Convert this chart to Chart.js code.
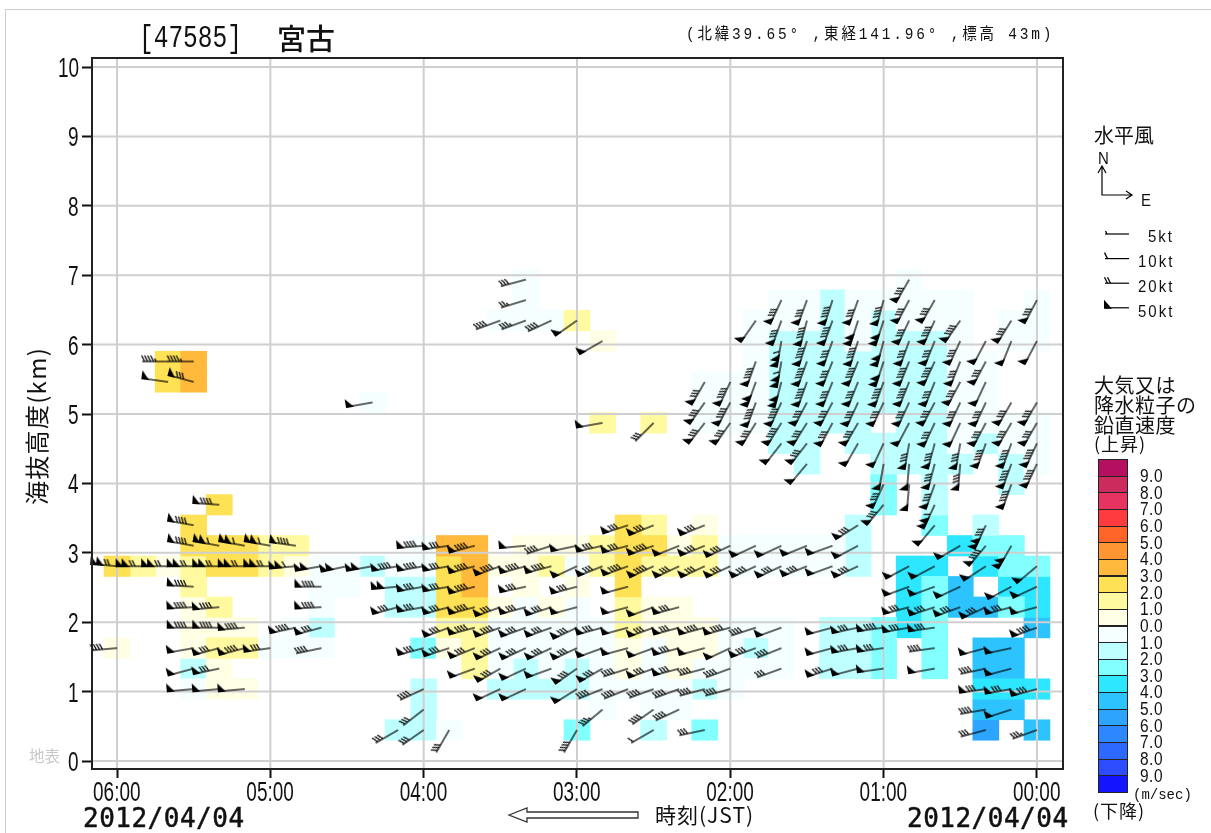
<!DOCTYPE html>
<html lang="ja">
<head>
<meta charset="utf-8">
<title>47585 宮古</title>
<script src="https://cdn.jsdelivr.net/npm/chart.js@4/dist/chart.umd.min.js"></script>
<style>
    html, body { margin: 0; padding: 0; background: #fff; overflow: hidden; }
    #wrap { position: relative; width: 1211px; height: 833px; }
    #frame { position: absolute; left: 5px; top: 9px; right: -5px; bottom: -5px; border-left: 1px solid #ccc; border-top: 1px solid #ccc; }
    canvas { position: absolute; left: 0; top: 0; }
    .t { position: absolute; white-space: pre; line-height: 1; color: #111; transform-origin: left top; font-family: "Noto Sans CJK JP", sans-serif; }
    .m { font-family: "Liberation Mono", monospace; }
    .d { font-family: "DejaVu Sans Mono", monospace; -webkit-text-stroke: 0.5px #111; }
    .tick { font-family: "Liberation Sans", sans-serif; font-size: 19px; transform: scaleY(1.42); }
    .kt { font-family: "Liberation Sans", sans-serif; font-size: 15px; letter-spacing: 2px; transform: scaleY(1.15); }
    .box { position: absolute; left: 1098px; width: 30px; box-sizing: border-box; border: 1px solid #222; }
</style>
</head>
<body>
<div id="wrap">
    <div id="frame"></div>
    <canvas id="perfil" width="1211" height="833"></canvas>
    <span class="t m" style="left:139px;top:24px;font-size:24.5px;transform:scaleY(1.25)">[47585]</span>
    <span class="t" style="left:277px;top:23px;font-size:29px;font-weight:500">宮古</span>
    <span class="t" style="left:686px;top:27px;font-size:14.5px;letter-spacing:2.8px;font-family:'Liberation Mono','Noto Sans CJK JP',monospace;transform:scaleY(1.12)">(北緯39.65° ,東経141.96° ,標高 43m)</span>
    <span class="t" style="left:24px;top:505px;font-size:24px;transform:rotate(-90deg);letter-spacing:1.3px">海抜高度(km)</span>
    <span class="t" style="left:29px;top:748px;font-size:15.5px;color:#c8c8c8">地表</span>
    <span class="t d" style="left:83px;top:805px;font-size:26px;letter-spacing:0.5px">2012/04/04</span>
    <span class="t d" style="left:907px;top:805px;font-size:26px;letter-spacing:0.5px">2012/04/04</span>
    <span class="t" style="left:655px;top:804px;font-size:21px;letter-spacing:1px">時刻(JST)</span>
    <span class="t" style="left:1094px;top:125px;font-size:20px">水平風</span>
    <span class="t kt" style="left:1098px;top:149px;letter-spacing:0">N</span>
    <span class="t kt" style="left:1141px;top:191px;letter-spacing:0">E</span>
    <span class="t kt" style="left:1148px;top:227px">5kt</span>
    <span class="t kt" style="left:1138px;top:252px">10kt</span>
    <span class="t kt" style="left:1138px;top:277px">20kt</span>
    <span class="t kt" style="left:1138px;top:302px">50kt</span>
    <span class="t" style="left:1094px;top:375px;font-size:20px;letter-spacing:0.5px">大気又は</span>
    <span class="t" style="left:1094px;top:395px;font-size:20px;letter-spacing:0.5px">降水粒子の</span>
    <span class="t" style="left:1094px;top:415px;font-size:20px;letter-spacing:0.5px">鉛直速度</span>
    <span class="t" style="left:1094px;top:434px;font-size:18px;letter-spacing:1px">(上昇)</span>
    <span class="t m" style="left:1133px;top:788px;font-size:14px">(m/sec)</span>
    <span class="t" style="left:1093px;top:801px;font-size:18px;letter-spacing:1px">(下降)</span>
</div>
<script>
// ticks (minutes counted back from 00:00, km above sea level)
const timeTicks = [0, 60, 120, 180, 240, 300, 360];
const timeLabels = ['00:00', '01:00', '02:00', '03:00', '04:00', '05:00', '06:00'];
const heightTicks = [0, 1, 2, 3, 4, 5, 6, 7, 8, 9, 10];

// measuring gates of the profiler
const gateKm = [0.447, 0.742, 1.037, 1.332, 1.627, 1.922, 2.217, 2.512, 2.807, 3.102, 3.397, 3.692,
    3.987, 4.282, 4.577, 4.872, 5.167, 5.462, 5.757, 6.052, 6.347, 6.642, 6.937];
const gateHalfKm = 0.1475;

// colour bar, top to bottom
const bandColors = ['#B5105F', '#CC2B5E', '#E6335F', '#FF3B3F', '#FF6428', '#FF9632', '#FFB93C', '#FFE155', '#FFFAA0', '#FFFFE6',
    '#F5FFFF', '#BEFFFF', '#82FFFF', '#2DE6FF', '#2DC3FF', '#2DA5FF', '#2D87FF', '#2D69FF', '#2D4BFF', '#1414FF'];
const bandLabels = ['9.0', '8.0', '7.0', '6.0', '5.0', '4.0', '3.0', '2.0', '1.0', '0.0', '1.0', '2.0', '3.0', '4.0', '5.0', '6.0', '7.0', '8.0', '9.0'];
const cellBand = { a: 9, b: 8, c: 7, d: 6, 1: 10, 2: 11, 3: 12, 4: 13, 5: 14, 6: 15 };

// vertical velocity per gate (first line = lowest gate), one char per 10 minutes, 06:00 on the left
const verticalRows = [
    '...... .....2 21.... 3..2.3 ...... ....6. 5',
    '...... ...... 2..... .1.11. ...... ....55 .',
    '...1aa ...... 2..222 211112 1..... ....44 4',
    '...2a. ...... ..b121 21a1a1 111.22 3.3.55 .',
    'a..abb 111... 3ab111 11a1aa 121.22 3.3.55 .',
    '...aaa .12... .bb111 11baaa 111.22 343... 5',
    '...ab. ..1..2 2cca1a 1.baa. ...... .43553 4',
    '...b.. ..11.2 2cd.a. a.c... ...... .435.4 4',
    'cbabcc ba1121 1cdaab 1bcbbb 111112 .44.43 3',
    '...ccc bb.... 1dd.aa abccab 111112 ...433 .',
    '...c.. ...... ...... ..cb.a .....2 ..3.2. .',
    '....c. ...... ...... ...... ...... 3.2... .',
    '...... ...... ...... ...... ...... 3.2..2 .',
    '...... ...... ...... ...... ...2.. 2222.2 1',
    '...... ...... ...... ...... ..22.2 222121 1',
    '...... ...... ...... .b.b.1 112222 .22111 1',
    '...... ....1. ...... .....1 112222 22211. .',
    '..cd.. ...... ...... .....1 112222 22211. .',
    '..cd.. ...... ...... ...... .12222 22211. .',
    '...... ...... ...... .a.... .12221 2221.1 1',
    '...... ...... ...111 b..... .11121 2111.1 1',
    '...... ...... ....1. ...... ..1121 1111.. 1',
    '...... ...... ....1. ...... ...... .1.... .'
];

// horizontal wind per gate: [column (10 min back from 00:00), tail angle below horizontal in degrees, knots]
const windRows = [
    [[25,30,30],[24,35,30],[23,60,30],[18,60,40],[15,30,10],[13,12,30],[2,15,30],[0,20,35]],
    [[24,38,30],[17,40,35],[15,35,40],[14,25,40],[2,10,40],[1,18,50]],
    [[33,5,50],[32,5,50],[31,5,50],[24,25,40],[21,25,50],[20,25,50],[18,32,50],[17,22,40],[16,22,40],[15,20,40],[14,20,40],[13,15,40],[12,15,40],[2,8,80],[1,10,80],[0,15,80]],
    [[33,15,50],[32,12,80],[22,20,50],[21,30,80],[20,25,50],[19,20,50],[18,35,80],[17,30,80],[16,18,40],[15,20,80],[14,15,80],[13,15,40],[12,20,40],[10,20,30],[8,18,80],[7,15,50],[6,8,50],[4,10,50],[2,12,40],[1,15,50]],
    [[36,5,40],[33,10,50],[32,15,80],[31,15,90],[30,8,80],[28,12,40],[24,15,80],[23,18,80],[22,22,80],[21,25,80],[20,25,80],[19,25,80],[18,25,80],[17,20,50],[16,15,50],[15,20,50],[14,15,80],[13,15,50],[12,25,50],[11,20,80],[10,22,40],[8,15,50],[7,10,80],[6,8,80],[4,8,40],[2,15,50],[1,12,50]],
    [[33,0,90],[32,0,90],[31,5,90],[29,12,90],[28,15,80],[23,20,80],[22,15,90],[21,20,90],[20,20,80],[19,20,80],[18,25,80],[17,15,80],[16,15,50],[15,20,80],[14,15,80],[13,15,90],[12,15,90],[11,18,40],[10,20,50],[8,15,50],[7,12,80],[6,8,90],[5,10,80],[4,8,80],[0,20,90]],
    [[33,3,90],[32,5,90],[28,3,90],[25,15,80],[24,10,80],[23,15,80],[22,15,90],[21,20,80],[20,15,80],[19,18,80],[18,15,50],[16,15,50],[15,20,50],[14,15,80],[5,15,80],[4,18,80],[3,20,80],[2,25,80],[1,15,80],[0,15,50]],
    [[33,-3,90],[28,0,90],[25,5,100],[24,10,80],[23,10,80],[22,15,90],[20,12,80],[18,15,80],[16,15,50],[5,20,50],[4,20,50],[3,25,50],[1,28,50],[0,25,50]],
    [[36,-5,120],[35,0,120],[34,0,120],[33,0,120],[32,0,120],[31,0,120],[30,0,120],[29,5,110],[28,10,100],[27,12,100],[26,10,100],[25,10,90],[24,10,90],[23,10,80],[22,15,90],[21,20,90],[20,15,90],[19,15,90],[18,25,50],[17,22,80],[16,20,90],[15,25,90],[14,25,80],[13,25,80],[12,25,80],[11,25,80],[10,25,80],[9,22,80],[8,20,50],[7,25,80],[5,28,50],[4,28,50],[2,33,50],[0,40,50]],
    [[33,-10,90],[32,-10,110],[31,-10,110],[30,-10,110],[29,-8,90],[24,5,90],[23,8,80],[22,15,90],[20,5,50],[19,18,40],[18,12,50],[17,13,80],[16,15,80],[15,20,90],[14,22,50],[13,22,80],[12,25,80],[11,25,50],[10,25,50],[9,22,50],[8,20,50],[7,28,50],[3,30,50],[2,50,90],[1,60,100]],
    [[33,-10,90],[16,18,80],[15,22,80],[13,22,80],[7,32,80],[4,50,50],[2,65,130]],
    [[32,-4,90],[6,50,80],[4,65,110]],
    [[6,65,80],[5,85,50],[4,70,80],[1,70,90]],
    [[9,50,50],[6,80,50],[5,85,50],[4,75,80],[3,85,80],[1,70,90],[0,65,90]],
    [[10,52,50],[9,52,80],[7,60,50],[6,65,50],[5,80,80],[4,75,80],[3,80,80],[2,70,90],[1,70,90],[0,65,90]],
    [[17,10,50],[15,45,30],[13,52,80],[12,55,80],[11,58,80],[10,58,90],[9,58,80],[8,62,80],[7,60,80],[5,62,50],[4,65,80],[3,65,50],[2,62,80],[1,60,80],[0,60,80]],
    [[26,10,50],[13,55,80],[12,62,90],[11,70,90],[10,65,90],[9,62,80],[8,62,80],[7,65,80],[6,65,80],[5,65,80],[4,62,80],[3,65,80],[2,65,80],[1,60,80],[0,60,80]],
    [[34,-8,50],[33,-15,80],[13,60,80],[12,65,90],[11,70,100],[10,75,100],[9,70,90],[8,68,80],[7,68,80],[6,70,90],[5,68,90],[4,68,80],[3,62,80],[2,65,50]],
    [[34,0,45],[33,0,45],[11,70,90],[10,80,110],[9,70,90],[8,68,80],[7,68,90],[6,72,100],[5,68,90],[4,65,90],[3,68,80],[2,62,80]],
    [[17,30,50],[10,80,110],[9,72,90],[8,70,80],[7,72,90],[6,75,100],[5,70,80],[4,68,80],[3,65,80],[2,62,50],[1,68,50],[0,62,50]],
    [[21,20,40],[20,20,35],[19,25,40],[18,35,50],[11,55,50],[10,70,80],[9,75,90],[8,70,90],[7,72,100],[6,72,100],[5,65,80],[4,65,90],[3,55,90],[1,58,80]],
    [[20,17,25],[10,65,80],[9,70,80],[8,72,90],[7,70,80],[6,75,90],[5,62,80],[4,60,80],[0,62,80]],
    [[20,15,30],[5,60,80]]
];

// legend of the barbs
const legendKnots = [5, 10, 20, 50];

function buildCellData() {
    const bands = {};
    verticalRows.forEach((line, r) => {
        line.replace(/ /g, '').split('').forEach((ch, i) => {
            if (ch === '.') return;
            const band = cellBand[ch];
            (bands[band] = bands[band] || []).push({ x: (36 - i) * 10, y: [gateKm[r] - gateHalfKm, gateKm[r] + gateHalfKm] });
        });
    });
    return bands;
}

function buildBarbData() {
    const puntos = [];
    windRows.forEach((row, r) => {
        row.forEach(([c, angle, knots]) => puntos.push({ x: c * 10, y: gateKm[r], angle, knots }));
    });
    return puntos;
}

// staff runs left from (x0,y0), tail at the far left, feathers up
function drawBarb(ctx, x0, y0, len, knots) {
    ctx.strokeStyle = '#000';
    ctx.fillStyle = '#000';
    ctx.lineWidth = 1.2;
    ctx.beginPath();
    ctx.moveTo(x0, y0);
    ctx.lineTo(x0 - len, y0);
    ctx.stroke();
    let rest = knots;
    let pos = x0 - len;
    while (rest >= 50) {
        ctx.beginPath();
        ctx.moveTo(pos - 1, y0 + 1);
        ctx.lineTo(pos - 1, y0 - 8);
        ctx.lineTo(pos + 7, y0 + 1);
        ctx.closePath();
        ctx.fill();
        pos += 6;
        rest -= 50;
    }
    if (pos > x0 - len) pos += 1;
    ctx.lineWidth = 1.3;
    while (rest >= 10) {
        ctx.beginPath();
        ctx.moveTo(pos + 2.5, y0);
        ctx.lineTo(pos - 0.5, y0 - 6);
        ctx.stroke();
        pos += 3;
        rest -= 10;
    }
    if (rest >= 5) {
        ctx.beginPath();
        ctx.moveTo(pos + 2, y0);
        ctx.lineTo(pos + 0.5, y0 - 3);
        ctx.stroke();
    }
}

const barbCache = {};
function barbStyle(knots) {
    if (!barbCache[knots]) {
        const cv = document.createElement('canvas');
        cv.width = 76;
        cv.height = 76;
        drawBarb(cv.getContext('2d'), 38, 38, 26, knots);
        barbCache[knots] = cv;
    }
    return barbCache[knots];
}

// grid sits over the cells but under the barbs
const gridOverCells = {
    id: 'gridOverCells',
    beforeDatasetDraw(chart, args) {
        if (args.index !== 0) return;
        const { ctx, chartArea: a, scales: { x, y } } = chart;
        ctx.save();
        ctx.strokeStyle = '#cfcfcf';
        ctx.lineWidth = 2;
        ctx.beginPath();
        timeTicks.forEach(v => { const p = x.getPixelForValue(v); ctx.moveTo(p, a.top); ctx.lineTo(p, a.bottom); });
        heightTicks.forEach(v => { const p = y.getPixelForValue(v); ctx.moveTo(a.left, p); ctx.lineTo(a.right, p); });
        ctx.stroke();
        ctx.restore();
    }
};

const frameAndKey = {
    id: 'frameAndKey',
    afterDraw(chart) {
        const { ctx, chartArea: a } = chart;
        ctx.save();
        ctx.strokeStyle = '#222';
        ctx.lineWidth = 2;
        ctx.strokeRect(a.left, a.top, a.right - a.left, a.bottom - a.top);

        // compass of the legend
        ctx.lineWidth = 1.2;
        ctx.strokeStyle = '#000';
        ctx.beginPath();
        ctx.moveTo(1102, 166); ctx.lineTo(1102, 195); ctx.lineTo(1132, 195);
        ctx.moveTo(1098, 173); ctx.lineTo(1102, 166); ctx.lineTo(1106, 173);
        ctx.moveTo(1126, 191); ctx.lineTo(1132, 195); ctx.lineTo(1126, 199);
        ctx.stroke();

        legendKnots.forEach((k, i) => drawBarb(ctx, 1129, 234 + i * 24.6, 24, k));

        // time direction arrow
        ctx.strokeStyle = '#333';
        ctx.lineWidth = 1.3;
        ctx.beginPath();
        ctx.moveTo(509, 815); ctx.lineTo(527, 808); ctx.lineTo(527, 812); ctx.lineTo(638, 812);
        ctx.lineTo(638, 818); ctx.lineTo(527, 818); ctx.lineTo(527, 822);
        ctx.closePath();
        ctx.stroke();
        ctx.restore();
    }
};

function pintarBarraColor() {
    const wrap = document.getElementById('wrap');
    bandColors.forEach((color, i) => {
        const box = document.createElement('div');
        box.className = 'box';
        box.style.top = (459 + i * 16.65) + 'px';
        box.style.height = '17.6px';
        box.style.background = color;
        wrap.appendChild(box);
    });
    bandLabels.forEach((text, i) => {
        const s = document.createElement('span');
        s.className = 't tick';
        s.textContent = text;
        s.style.cssText = 'left:1140px;font-size:15.5px;letter-spacing:0.5px;top:' + (466 + i * 16.65) + 'px;transform:scaleY(1.2)';
        wrap.appendChild(s);
    });
}

// tall narrow tick text of the original, placed from the chart's own axes
function pintarEtiquetas(chart) {
    const wrap = document.getElementById('wrap');
    chart.scales.x.ticks.forEach(t => {
        const s = document.createElement('span');
        s.className = 't tick';
        s.textContent = timeLabels[timeTicks.indexOf(t.value)];
        wrap.appendChild(s);
        s.style.left = (chart.scales.x.getPixelForValue(t.value) - s.offsetWidth / 2) + 'px';
        s.style.top = '778px';
    });
    chart.scales.y.ticks.forEach(t => {
        const s = document.createElement('span');
        s.className = 't tick';
        s.textContent = String(t.value);
        wrap.appendChild(s);
        s.style.left = (79 - s.offsetWidth) + 'px';
        s.style.top = (chart.scales.y.getPixelForValue(t.value) - 13) + 'px';
    });
}

function renderizarPerfil() {
    const bands = buildCellData();
    const cellSets = Object.keys(bands).map(b => ({
        type: 'bar',
        data: bands[b],
        backgroundColor: bandColors[b],
        borderWidth: 0,
        barThickness: 26,
        grouped: false,
        order: 1
    }));

    const chart = new Chart(document.getElementById('perfil').getContext('2d'), {
        type: 'bar',
        data: {
            datasets: [{
                type: 'scatter',
                data: buildBarbData(),
                order: 0,
                clip: false,
                pointStyle: ctx => barbStyle(ctx.raw.knots),
                rotation: ctx => -ctx.raw.angle,
                radius: 5,
                hoverRadius: 5
            }].concat(cellSets)
        },
        options: {
            responsive: false,
            animation: false,
            devicePixelRatio: 1,
            events: [],
            layout: { padding: { left: 0, right: 148, top: 58, bottom: 0 } },
            plugins: { legend: { display: false }, tooltip: { enabled: false } },
            scales: {
                x: {
                    type: 'linear',
                    reverse: true,
                    offset: false,
                    min: -10.2,
                    max: 369.8,
                    afterFit: s => { s.height = 64; },
                    border: { display: false },
                    grid: { offset: false, drawOnChartArea: false, tickColor: '#111', tickWidth: 2, tickLength: 9 },
                    ticks: { stepSize: 60, includeBounds: false, autoSkip: false, display: false }
                },
                y: {
                    min: -0.115,
                    max: 10.13,
                    afterFit: s => { s.width = 92; },
                    border: { display: false },
                    grid: { drawOnChartArea: false, tickColor: '#111', tickWidth: 2, tickLength: 10 },
                    ticks: { stepSize: 1, includeBounds: false, display: false }
                }
            }
        },
        plugins: [gridOverCells, frameAndKey]
    });
    pintarEtiquetas(chart);
}

pintarBarraColor();
renderizarPerfil();
</script>
</body>
</html>
